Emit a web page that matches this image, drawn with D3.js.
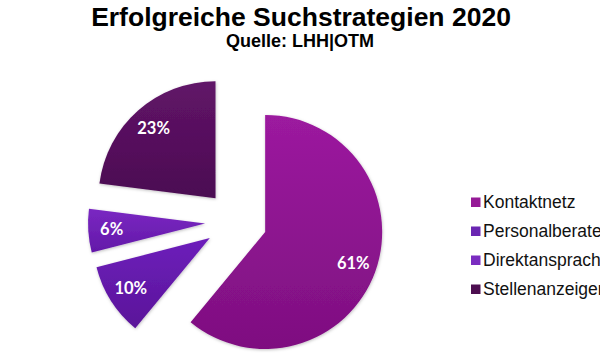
<!DOCTYPE html>
<html><head><meta charset="utf-8">
<script src="https://cdn.jsdelivr.net/npm/d3@7"></script>
<style>html,body{margin:0;padding:0;background:#fff;overflow:hidden;}svg{display:block;}</style>
</head><body>
<svg id="chart" width="600" height="356"></svg>
<script>
const categories = ["Kontaktnetz", "Personalberater", "Direktansprache", "Stellenanzeigen"];
const values = [61, 10, 6, 23];
const labels = ["61%", "10%", "6%", "23%"];
const colorsTop = ["#9c1a9f", "#6d1fbb", "#7a28c2", "#611468"];
const colorsBottom = ["#7e0f80", "#5a1499", "#6318a8", "#4b0b52"];
const legendColors = ["#951a96", "#6a26b2", "#7a2cc0", "#4d0e50"];
const titleText = "Erfolgreiche Suchstrategien 2020";
const subtitleText = "Quelle: LHH|OTM";

const svg = d3.select("#chart");
const cx = 236, cy = 221.5, R = 117, explode = 31;

const defs = svg.append("defs");
const f = defs.append("filter").attr("id","sh").attr("x","-20%").attr("y","-20%").attr("width","140%").attr("height","140%");
f.append("feDropShadow").attr("dx",0.5).attr("dy",1).attr("stdDeviation",1.5).attr("flood-color","#000").attr("flood-opacity",0.25);

categories.forEach((c,i)=>{
  const g = defs.append("linearGradient").attr("id","g"+i).attr("x1",0).attr("y1",0).attr("x2",0).attr("y2",1);
  g.append("stop").attr("offset","0%").attr("stop-color",colorsTop[i]);
  g.append("stop").attr("offset","100%").attr("stop-color",colorsBottom[i]);
});

svg.append("text").attr("x",301).attr("y",26).attr("text-anchor","middle")
  .style("font-family","Liberation Sans, Arial, sans-serif").style("font-weight","bold").style("font-size","26.5px").attr("fill","#000").text(titleText);
svg.append("text").attr("x",300).attr("y",47).attr("text-anchor","middle")
  .style("font-family","Liberation Sans, Arial, sans-serif").style("font-weight","bold").style("font-size","18px").attr("fill","#000").text(subtitleText);

const pie = d3.pie().sort(null).value(d=>d)(values);
const arc = d3.arc().innerRadius(0).outerRadius(R);
const labelArc = d3.arc().innerRadius(R*0.8).outerRadius(R*0.8);

const gPie = svg.append("g").attr("transform",`translate(${cx},${cy})`);
const slices = gPie.selectAll("g.slice").data(pie).enter().append("g")
  .attr("transform", d=>{
    const a = (d.startAngle + d.endAngle)/2;
    return `translate(${explode*Math.sin(a)},${-explode*Math.cos(a)})`;
  });
slices.append("path").attr("d",arc).attr("fill",(d,i)=>`url(#g${i})`).attr("filter","url(#sh)");
slices.append("text")
  .attr("transform", d=>`translate(${labelArc.centroid(d)})`)
  .attr("text-anchor","middle").attr("dy","0.35em")
  .style("font-family","Lato, Open Sans, sans-serif").style("font-weight","bold").style("font-size","16.5px")
  .attr("fill","#fff").text((d,i)=>labels[i]);

const leg = svg.append("g").attr("transform","translate(471,202)");
categories.forEach((c,i)=>{
  const row = leg.append("g").attr("transform",`translate(0,${i*29})`);
  row.append("rect").attr("x",0).attr("y",-4.5).attr("width",9.5).attr("height",9.5).attr("fill",legendColors[i]);
  row.append("text").attr("x",12).attr("y",0).attr("dy","0.35em")
    .style("font-family","Liberation Sans, Arial, sans-serif").style("font-size","17.5px").attr("fill","#111").text(c);
});
</script>
</body></html>
